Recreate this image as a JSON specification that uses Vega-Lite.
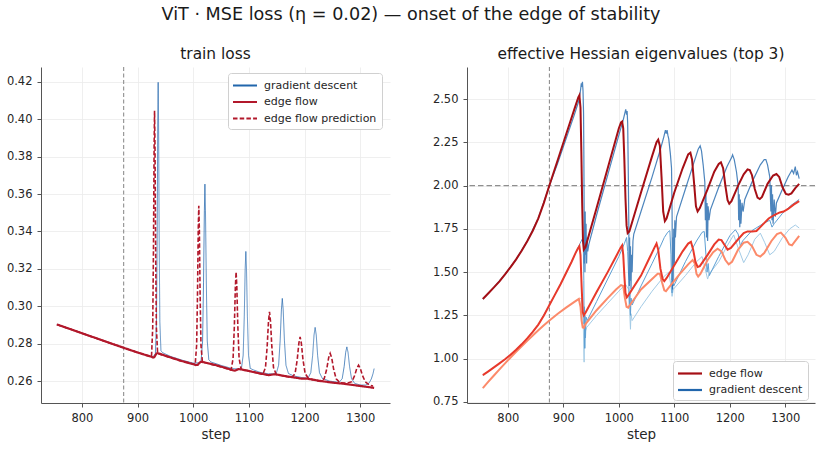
{
  "$schema": "https://vega.github.io/schema/vega-lite/v6.json",
  "padding": {"left": 6, "top": 6, "right": 5, "bottom": 5},
  "title": {"text": "ViT · MSE loss (η = 0.02) — onset of the edge of stability", "font": "DejaVu Sans", "fontSize": 17.6, "fontWeight": "normal", "color": "#1a1a1a", "anchor": "middle", "offset": 23},
  "config": {
    "view": {"stroke": null},
    "font": "DejaVu Sans",
    "title": {"font": "DejaVu Sans", "fontSize": 15.4, "fontWeight": "normal", "color": "#1a1a1a"},
    "axis": {"labelFont": "DejaVu Sans", "labelFontSize": 11.5, "labelColor": "#262626", "titleFont": "DejaVu Sans", "titleFontSize": 13.5, "titleFontWeight": "normal", "titleColor": "#262626", "domainColor": "#555555", "domainWidth": 1, "tickColor": "#555555", "tickSize": 4, "tickWidth": 1, "gridColor": "#ebebeb", "gridWidth": 0.8, "labelPadding": 5},
    "legend": {"labelFont": "DejaVu Sans", "labelFontSize": 11, "labelColor": "#262626", "symbolType": "M-2,0L2,0", "symbolSize": 144, "symbolStrokeWidth": 2.2, "symbolOffset": 4.5, "strokeColor": "#d0d0d0", "fillColor": "#ffffff", "padding": 5, "cornerRadius": 3, "rowPadding": 3.5, "labelOffset": 11.5, "symbolOpacity": 1}
  },
  "datasets": {
    "loss": [
      {"s": 755, "v": 0.2903, "c": "gradient descent"}, {"s": 780, "v": 0.2877, "c": "gradient descent"}, {"s": 800, "v": 0.2856, "c": "gradient descent"}, {"s": 825, "v": 0.2830, "c": "gradient descent"}, {"s": 850, "v": 0.2804, "c": "gradient descent"}, {"s": 875, "v": 0.2778, "c": "gradient descent"}, {"s": 900, "v": 0.2753, "c": "gradient descent"}, {"s": 920, "v": 0.2735, "c": "gradient descent"}, {"s": 928, "v": 0.2730, "c": "gradient descent"}, {"s": 932, "v": 0.2748, "c": "gradient descent"}, {"s": 934, "v": 0.2919, "c": "gradient descent"}, {"s": 935.25, "v": 0.3398, "c": "gradient descent"}, {"s": 936.25, "v": 0.3979, "c": "gradient descent"}, {"s": 937, "v": 0.4197, "c": "gradient descent"}, {"s": 937.75, "v": 0.3979, "c": "gradient descent"}, {"s": 938.75, "v": 0.3398, "c": "gradient descent"}, {"s": 940, "v": 0.2919, "c": "gradient descent"}, {"s": 942, "v": 0.2762, "c": "gradient descent"}, {"s": 945, "v": 0.2752, "c": "gradient descent"}, {"s": 960, "v": 0.2731, "c": "gradient descent"}, {"s": 980, "v": 0.2712, "c": "gradient descent"}, {"s": 1000, "v": 0.2696, "c": "gradient descent"}, {"s": 1010, "v": 0.2698, "c": "gradient descent"}, {"s": 1014, "v": 0.2704, "c": "gradient descent"}, {"s": 1016.8, "v": 0.2814, "c": "gradient descent"}, {"s": 1018.5, "v": 0.3129, "c": "gradient descent"}, {"s": 1020, "v": 0.3510, "c": "gradient descent"}, {"s": 1021, "v": 0.3653, "c": "gradient descent"}, {"s": 1022, "v": 0.3510, "c": "gradient descent"}, {"s": 1023.5, "v": 0.3129, "c": "gradient descent"}, {"s": 1025.2, "v": 0.2814, "c": "gradient descent"}, {"s": 1028, "v": 0.2714, "c": "gradient descent"}, {"s": 1032, "v": 0.2702, "c": "gradient descent"}, {"s": 1050, "v": 0.2684, "c": "gradient descent"}, {"s": 1070, "v": 0.2667, "c": "gradient descent"}, {"s": 1080, "v": 0.2665, "c": "gradient descent"}, {"s": 1086.5, "v": 0.2665, "c": "gradient descent"}, {"s": 1089.7, "v": 0.2738, "c": "gradient descent"}, {"s": 1091.7, "v": 0.2946, "c": "gradient descent"}, {"s": 1093.3, "v": 0.3198, "c": "gradient descent"}, {"s": 1094.5, "v": 0.3293, "c": "gradient descent"}, {"s": 1095.7, "v": 0.3198, "c": "gradient descent"}, {"s": 1097.3, "v": 0.2946, "c": "gradient descent"}, {"s": 1099.3, "v": 0.2738, "c": "gradient descent"}, {"s": 1102.5, "v": 0.2668, "c": "gradient descent"}, {"s": 1108, "v": 0.2660, "c": "gradient descent"}, {"s": 1120, "v": 0.2647, "c": "gradient descent"}, {"s": 1135, "v": 0.2639, "c": "gradient descent"}, {"s": 1149, "v": 0.2639, "c": "gradient descent"}, {"s": 1153.4, "v": 0.2685, "c": "gradient descent"}, {"s": 1156.2, "v": 0.2819, "c": "gradient descent"}, {"s": 1158.4, "v": 0.2981, "c": "gradient descent"}, {"s": 1160, "v": 0.3042, "c": "gradient descent"}, {"s": 1161.6, "v": 0.2981, "c": "gradient descent"}, {"s": 1163.8, "v": 0.2819, "c": "gradient descent"}, {"s": 1166.6, "v": 0.2685, "c": "gradient descent"}, {"s": 1171, "v": 0.2641, "c": "gradient descent"}, {"s": 1180, "v": 0.2628, "c": "gradient descent"}, {"s": 1195, "v": 0.2619, "c": "gradient descent"}, {"s": 1206, "v": 0.2615, "c": "gradient descent"}, {"s": 1211.2, "v": 0.2645, "c": "gradient descent"}, {"s": 1214.5, "v": 0.2736, "c": "gradient descent"}, {"s": 1217, "v": 0.2846, "c": "gradient descent"}, {"s": 1219, "v": 0.2887, "c": "gradient descent"}, {"s": 1221, "v": 0.2846, "c": "gradient descent"}, {"s": 1223.5, "v": 0.2736, "c": "gradient descent"}, {"s": 1226.8, "v": 0.2645, "c": "gradient descent"}, {"s": 1232, "v": 0.2614, "c": "gradient descent"}, {"s": 1245, "v": 0.2600, "c": "gradient descent"}, {"s": 1262, "v": 0.2593, "c": "gradient descent"}, {"s": 1267.6, "v": 0.2613, "c": "gradient descent"}, {"s": 1271.1, "v": 0.2677, "c": "gradient descent"}, {"s": 1273.9, "v": 0.2754, "c": "gradient descent"}, {"s": 1276, "v": 0.2783, "c": "gradient descent"}, {"s": 1278.1, "v": 0.2754, "c": "gradient descent"}, {"s": 1280.9, "v": 0.2677, "c": "gradient descent"}, {"s": 1284.4, "v": 0.2613, "c": "gradient descent"}, {"s": 1290, "v": 0.2588, "c": "gradient descent"}, {"s": 1300, "v": 0.2579, "c": "gradient descent"}, {"s": 1310, "v": 0.2579, "c": "gradient descent"}, {"s": 1316, "v": 0.2590, "c": "gradient descent"}, {"s": 1320, "v": 0.2612, "c": "gradient descent"}, {"s": 1323, "v": 0.2640, "c": "gradient descent"}, {"s": 1325, "v": 0.2667, "c": "gradient descent"},

      {"s": 755, "v": 0.2903, "c": "edge flow"}, {"s": 780, "v": 0.2877, "c": "edge flow"}, {"s": 800, "v": 0.2856, "c": "edge flow"}, {"s": 825, "v": 0.2830, "c": "edge flow"}, {"s": 850, "v": 0.2804, "c": "edge flow"}, {"s": 875, "v": 0.2778, "c": "edge flow"}, {"s": 900, "v": 0.2753, "c": "edge flow"}, {"s": 915, "v": 0.2739, "c": "edge flow"}, {"s": 925, "v": 0.2730, "c": "edge flow"}, {"s": 928, "v": 0.2726, "c": "edge flow"}, {"s": 930, "v": 0.2728, "c": "edge flow"}, {"s": 932, "v": 0.2738, "c": "edge flow"}, {"s": 934, "v": 0.2748, "c": "edge flow"}, {"s": 936, "v": 0.2750, "c": "edge flow"}, {"s": 940, "v": 0.2746, "c": "edge flow"}, {"s": 960, "v": 0.2726, "c": "edge flow"}, {"s": 980, "v": 0.2707, "c": "edge flow"}, {"s": 1000, "v": 0.2690, "c": "edge flow"}, {"s": 1005, "v": 0.2686, "c": "edge flow"}, {"s": 1008, "v": 0.2687, "c": "edge flow"}, {"s": 1010, "v": 0.2694, "c": "edge flow"}, {"s": 1013, "v": 0.2702, "c": "edge flow"}, {"s": 1016, "v": 0.2703, "c": "edge flow"}, {"s": 1020, "v": 0.2700, "c": "edge flow"}, {"s": 1040, "v": 0.2686, "c": "edge flow"}, {"s": 1060, "v": 0.2669, "c": "edge flow"}, {"s": 1072, "v": 0.2657, "c": "edge flow"}, {"s": 1075, "v": 0.2656, "c": "edge flow"}, {"s": 1078, "v": 0.2660, "c": "edge flow"}, {"s": 1081, "v": 0.2664, "c": "edge flow"}, {"s": 1085, "v": 0.2663, "c": "edge flow"}, {"s": 1100, "v": 0.2654, "c": "edge flow"}, {"s": 1120, "v": 0.2641, "c": "edge flow"}, {"s": 1135, "v": 0.2632, "c": "edge flow"}, {"s": 1140, "v": 0.2634, "c": "edge flow"}, {"s": 1145, "v": 0.2636, "c": "edge flow"}, {"s": 1150, "v": 0.2635, "c": "edge flow"}, {"s": 1165, "v": 0.2627, "c": "edge flow"}, {"s": 1180, "v": 0.2620, "c": "edge flow"}, {"s": 1195, "v": 0.2613, "c": "edge flow"}, {"s": 1200, "v": 0.2614, "c": "edge flow"}, {"s": 1205, "v": 0.2613, "c": "edge flow"}, {"s": 1220, "v": 0.2605, "c": "edge flow"}, {"s": 1235, "v": 0.2598, "c": "edge flow"}, {"s": 1250, "v": 0.2592, "c": "edge flow"}, {"s": 1270, "v": 0.2586, "c": "edge flow"}, {"s": 1290, "v": 0.2578, "c": "edge flow"}, {"s": 1310, "v": 0.2570, "c": "edge flow"}, {"s": 1325, "v": 0.2564, "c": "edge flow"},

      {"s": 755, "v": 0.2903, "c": "edge flow prediction"}, {"s": 800, "v": 0.2856, "c": "edge flow prediction"}, {"s": 850, "v": 0.2804, "c": "edge flow prediction"}, {"s": 875, "v": 0.2778, "c": "edge flow prediction"}, {"s": 900, "v": 0.2753, "c": "edge flow prediction"}, {"s": 925, "v": 0.2730, "c": "edge flow prediction"}, {"s": 927.2, "v": 0.2885, "c": "edge flow prediction"}, {"s": 928.6, "v": 0.3320, "c": "edge flow prediction"}, {"s": 929.7, "v": 0.3847, "c": "edge flow prediction"}, {"s": 930.5, "v": 0.4045, "c": "edge flow prediction"}, {"s": 931.3, "v": 0.3847, "c": "edge flow prediction"}, {"s": 932.4, "v": 0.3320, "c": "edge flow prediction"}, {"s": 933.8, "v": 0.2885, "c": "edge flow prediction"}, {"s": 936, "v": 0.2748, "c": "edge flow prediction"}, {"s": 940, "v": 0.2743, "c": "edge flow prediction"}, {"s": 960, "v": 0.2724, "c": "edge flow prediction"}, {"s": 980, "v": 0.2706, "c": "edge flow prediction"}, {"s": 1003.5, "v": 0.2689, "c": "edge flow prediction"}, {"s": 1006.1, "v": 0.2792, "c": "edge flow prediction"}, {"s": 1007.7, "v": 0.3071, "c": "edge flow prediction"}, {"s": 1009, "v": 0.3410, "c": "edge flow prediction"}, {"s": 1010, "v": 0.3537, "c": "edge flow prediction"}, {"s": 1011, "v": 0.3410, "c": "edge flow prediction"}, {"s": 1012.3, "v": 0.3071, "c": "edge flow prediction"}, {"s": 1013.9, "v": 0.2792, "c": "edge flow prediction"}, {"s": 1016.5, "v": 0.2702, "c": "edge flow prediction"}, {"s": 1022, "v": 0.2698, "c": "edge flow prediction"}, {"s": 1045, "v": 0.2680, "c": "edge flow prediction"}, {"s": 1068, "v": 0.2659, "c": "edge flow prediction"}, {"s": 1071.6, "v": 0.2721, "c": "edge flow prediction"}, {"s": 1073.9, "v": 0.2895, "c": "edge flow prediction"}, {"s": 1075.7, "v": 0.3105, "c": "edge flow prediction"}, {"s": 1077, "v": 0.3184, "c": "edge flow prediction"}, {"s": 1078.3, "v": 0.3105, "c": "edge flow prediction"}, {"s": 1080.1, "v": 0.2895, "c": "edge flow prediction"}, {"s": 1082.4, "v": 0.2721, "c": "edge flow prediction"}, {"s": 1086, "v": 0.2664, "c": "edge flow prediction"}, {"s": 1095, "v": 0.2658, "c": "edge flow prediction"}, {"s": 1110, "v": 0.2647, "c": "edge flow prediction"}, {"s": 1125, "v": 0.2636, "c": "edge flow prediction"}, {"s": 1129.8, "v": 0.2673, "c": "edge flow prediction"}, {"s": 1132.8, "v": 0.2784, "c": "edge flow prediction"}, {"s": 1135.2, "v": 0.2919, "c": "edge flow prediction"}, {"s": 1137, "v": 0.2970, "c": "edge flow prediction"}, {"s": 1138.8, "v": 0.2919, "c": "edge flow prediction"}, {"s": 1141.2, "v": 0.2784, "c": "edge flow prediction"}, {"s": 1144.2, "v": 0.2673, "c": "edge flow prediction"}, {"s": 1149, "v": 0.2636, "c": "edge flow prediction"}, {"s": 1160, "v": 0.2629, "c": "edge flow prediction"}, {"s": 1177, "v": 0.2618, "c": "edge flow prediction"}, {"s": 1183, "v": 0.2641, "c": "edge flow prediction"}, {"s": 1186.8, "v": 0.2714, "c": "edge flow prediction"}, {"s": 1189.8, "v": 0.2803, "c": "edge flow prediction"}, {"s": 1192, "v": 0.2836, "c": "edge flow prediction"}, {"s": 1194.2, "v": 0.2803, "c": "edge flow prediction"}, {"s": 1197.2, "v": 0.2714, "c": "edge flow prediction"}, {"s": 1201, "v": 0.2641, "c": "edge flow prediction"}, {"s": 1207, "v": 0.2614, "c": "edge flow prediction"}, {"s": 1215, "v": 0.2608, "c": "edge flow prediction"}, {"s": 1228, "v": 0.2598, "c": "edge flow prediction"}, {"s": 1235.2, "v": 0.2612, "c": "edge flow prediction"}, {"s": 1239.7, "v": 0.2663, "c": "edge flow prediction"}, {"s": 1243.3, "v": 0.2725, "c": "edge flow prediction"}, {"s": 1246, "v": 0.2748, "c": "edge flow prediction"}, {"s": 1248.7, "v": 0.2725, "c": "edge flow prediction"}, {"s": 1252.3, "v": 0.2663, "c": "edge flow prediction"}, {"s": 1256.8, "v": 0.2612, "c": "edge flow prediction"}, {"s": 1264, "v": 0.2591, "c": "edge flow prediction"}, {"s": 1272, "v": 0.2589, "c": "edge flow prediction"}, {"s": 1277, "v": 0.2590, "c": "edge flow prediction"}, {"s": 1285, "v": 0.2597, "c": "edge flow prediction"}, {"s": 1290, "v": 0.2630, "c": "edge flow prediction"}, {"s": 1294, "v": 0.2669, "c": "edge flow prediction"}, {"s": 1297, "v": 0.2685, "c": "edge flow prediction"}, {"s": 1300, "v": 0.2669, "c": "edge flow prediction"}, {"s": 1304, "v": 0.2630, "c": "edge flow prediction"}, {"s": 1309, "v": 0.2597, "c": "edge flow prediction"}, {"s": 1317, "v": 0.2578, "c": "edge flow prediction"}, {"s": 1323, "v": 0.2574, "c": "edge flow prediction"}
    ],
    "eig": [
      {"s": 755, "v": 0.83, "c": "gradient descent λ3"}, {"s": 775, "v": 0.903, "c": "gradient descent λ3"}, {"s": 795, "v": 0.973, "c": "gradient descent λ3"}, {"s": 815, "v": 1.04, "c": "gradient descent λ3"}, {"s": 835, "v": 1.103, "c": "gradient descent λ3"}, {"s": 855, "v": 1.164, "c": "gradient descent λ3"}, {"s": 875, "v": 1.221, "c": "gradient descent λ3"}, {"s": 900, "v": 1.285, "c": "gradient descent λ3"}, {"s": 925, "v": 1.338, "c": "gradient descent λ3"}, {"s": 933, "v": 1.35, "c": "gradient descent λ3"}, {"s": 936, "v": 1.20, "c": "gradient descent λ3"}, {"s": 937, "v": 1.05, "c": "gradient descent λ3"}, {"s": 937.5, "v": 0.98, "c": "gradient descent λ3"}, {"s": 938, "v": 1.12, "c": "gradient descent λ3"}, {"s": 939, "v": 1.06, "c": "gradient descent λ3"}, {"s": 940, "v": 1.16, "c": "gradient descent λ3"}, {"s": 942, "v": 1.18, "c": "gradient descent λ3"}, {"s": 960, "v": 1.25, "c": "gradient descent λ3"}, {"s": 980, "v": 1.32, "c": "gradient descent λ3"}, {"s": 1000, "v": 1.39, "c": "gradient descent λ3"}, {"s": 1012, "v": 1.43, "c": "gradient descent λ3"}, {"s": 1018, "v": 1.40, "c": "gradient descent λ3"}, {"s": 1020, "v": 1.25, "c": "gradient descent λ3"}, {"s": 1021, "v": 1.17, "c": "gradient descent λ3"}, {"s": 1022, "v": 1.26, "c": "gradient descent λ3"}, {"s": 1024, "v": 1.22, "c": "gradient descent λ3"}, {"s": 1040, "v": 1.30, "c": "gradient descent λ3"}, {"s": 1060, "v": 1.39, "c": "gradient descent λ3"}, {"s": 1080, "v": 1.47, "c": "gradient descent λ3"}, {"s": 1090, "v": 1.50, "c": "gradient descent λ3"}, {"s": 1094, "v": 1.42, "c": "gradient descent λ3"}, {"s": 1096, "v": 1.36, "c": "gradient descent λ3"}, {"s": 1098, "v": 1.40, "c": "gradient descent λ3"}, {"s": 1120, "v": 1.48, "c": "gradient descent λ3"}, {"s": 1140, "v": 1.56, "c": "gradient descent λ3"}, {"s": 1150, "v": 1.59, "c": "gradient descent λ3"}, {"s": 1157, "v": 1.50, "c": "gradient descent λ3"}, {"s": 1160, "v": 1.46, "c": "gradient descent λ3"}, {"s": 1163, "v": 1.49, "c": "gradient descent λ3"}, {"s": 1180, "v": 1.56, "c": "gradient descent λ3"}, {"s": 1195, "v": 1.65, "c": "gradient descent λ3"}, {"s": 1207, "v": 1.715, "c": "gradient descent λ3"}, {"s": 1215, "v": 1.64, "c": "gradient descent λ3"}, {"s": 1225, "v": 1.555, "c": "gradient descent λ3"}, {"s": 1233, "v": 1.60, "c": "gradient descent λ3"}, {"s": 1245, "v": 1.69, "c": "gradient descent λ3"}, {"s": 1255, "v": 1.725, "c": "gradient descent λ3"}, {"s": 1263, "v": 1.67, "c": "gradient descent λ3"}, {"s": 1272, "v": 1.60, "c": "gradient descent λ3"}, {"s": 1280, "v": 1.62, "c": "gradient descent λ3"}, {"s": 1295, "v": 1.70, "c": "gradient descent λ3"}, {"s": 1308, "v": 1.75, "c": "gradient descent λ3"}, {"s": 1318, "v": 1.772, "c": "gradient descent λ3"}, {"s": 1325, "v": 1.755, "c": "gradient descent λ3"},

      {"s": 755, "v": 0.905, "c": "gradient descent λ2"}, {"s": 775, "v": 0.950, "c": "gradient descent λ2"}, {"s": 795, "v": 0.997, "c": "gradient descent λ2"}, {"s": 815, "v": 1.052, "c": "gradient descent λ2"}, {"s": 835, "v": 1.117, "c": "gradient descent λ2"}, {"s": 855, "v": 1.197, "c": "gradient descent λ2"}, {"s": 875, "v": 1.31, "c": "gradient descent λ2"}, {"s": 895, "v": 1.43, "c": "gradient descent λ2"}, {"s": 915, "v": 1.56, "c": "gradient descent λ2"}, {"s": 930, "v": 1.665, "c": "gradient descent λ2"}, {"s": 934, "v": 1.69, "c": "gradient descent λ2"}, {"s": 936, "v": 1.66, "c": "gradient descent λ2"}, {"s": 937, "v": 1.45, "c": "gradient descent λ2"}, {"s": 937.5, "v": 1.20, "c": "gradient descent λ2"}, {"s": 938, "v": 1.30, "c": "gradient descent λ2"}, {"s": 938.5, "v": 1.06, "c": "gradient descent λ2"}, {"s": 939, "v": 1.25, "c": "gradient descent λ2"}, {"s": 940, "v": 1.12, "c": "gradient descent λ2"}, {"s": 941, "v": 1.24, "c": "gradient descent λ2"}, {"s": 943, "v": 1.22, "c": "gradient descent λ2"}, {"s": 960, "v": 1.33, "c": "gradient descent λ2"}, {"s": 980, "v": 1.46, "c": "gradient descent λ2"}, {"s": 1000, "v": 1.59, "c": "gradient descent λ2"}, {"s": 1010, "v": 1.665, "c": "gradient descent λ2"}, {"s": 1014, "v": 1.70, "c": "gradient descent λ2"}, {"s": 1016, "v": 1.62, "c": "gradient descent λ2"}, {"s": 1018, "v": 1.45, "c": "gradient descent λ2"}, {"s": 1019, "v": 1.30, "c": "gradient descent λ2"}, {"s": 1020, "v": 1.38, "c": "gradient descent λ2"}, {"s": 1021, "v": 1.25, "c": "gradient descent λ2"}, {"s": 1022, "v": 1.35, "c": "gradient descent λ2"}, {"s": 1024, "v": 1.31, "c": "gradient descent λ2"}, {"s": 1040, "v": 1.42, "c": "gradient descent λ2"}, {"s": 1060, "v": 1.55, "c": "gradient descent λ2"}, {"s": 1075, "v": 1.65, "c": "gradient descent λ2"}, {"s": 1082, "v": 1.70, "c": "gradient descent λ2"}, {"s": 1088, "v": 1.73, "c": "gradient descent λ2"}, {"s": 1092, "v": 1.74, "c": "gradient descent λ2"}, {"s": 1094, "v": 1.60, "c": "gradient descent λ2"}, {"s": 1095, "v": 1.45, "c": "gradient descent λ2"}, {"s": 1096, "v": 1.38, "c": "gradient descent λ2"}, {"s": 1097, "v": 1.45, "c": "gradient descent λ2"}, {"s": 1099, "v": 1.42, "c": "gradient descent λ2"}, {"s": 1120, "v": 1.56, "c": "gradient descent λ2"}, {"s": 1140, "v": 1.68, "c": "gradient descent λ2"}, {"s": 1150, "v": 1.73, "c": "gradient descent λ2"}, {"s": 1154, "v": 1.735, "c": "gradient descent λ2"}, {"s": 1157, "v": 1.60, "c": "gradient descent λ2"}, {"s": 1159, "v": 1.50, "c": "gradient descent λ2"}, {"s": 1161, "v": 1.55, "c": "gradient descent λ2"}, {"s": 1163, "v": 1.48, "c": "gradient descent λ2"}, {"s": 1180, "v": 1.59, "c": "gradient descent λ2"}, {"s": 1200, "v": 1.71, "c": "gradient descent λ2"}, {"s": 1210, "v": 1.745, "c": "gradient descent λ2"}, {"s": 1215, "v": 1.72, "c": "gradient descent λ2"}, {"s": 1219, "v": 1.65, "c": "gradient descent λ2"}, {"s": 1223, "v": 1.68, "c": "gradient descent λ2"}, {"s": 1240, "v": 1.74, "c": "gradient descent λ2"}, {"s": 1260, "v": 1.78, "c": "gradient descent λ2"}, {"s": 1272, "v": 1.80, "c": "gradient descent λ2"}, {"s": 1276, "v": 1.76, "c": "gradient descent λ2"}, {"s": 1280, "v": 1.78, "c": "gradient descent λ2"}, {"s": 1295, "v": 1.84, "c": "gradient descent λ2"}, {"s": 1310, "v": 1.885, "c": "gradient descent λ2"}, {"s": 1325, "v": 1.92, "c": "gradient descent λ2"},

      {"s": 755, "v": 1.345, "c": "gradient descent"}, {"s": 775, "v": 1.412, "c": "gradient descent"}, {"s": 795, "v": 1.487, "c": "gradient descent"}, {"s": 815, "v": 1.574, "c": "gradient descent"}, {"s": 835, "v": 1.679, "c": "gradient descent"}, {"s": 855, "v": 1.811, "c": "gradient descent"}, {"s": 875, "v": 2.00, "c": "gradient descent"}, {"s": 890, "v": 2.13, "c": "gradient descent"}, {"s": 905, "v": 2.27, "c": "gradient descent"}, {"s": 920, "v": 2.41, "c": "gradient descent"}, {"s": 928, "v": 2.49, "c": "gradient descent"}, {"s": 931, "v": 2.55, "c": "gradient descent"}, {"s": 932.5, "v": 2.59, "c": "gradient descent"}, {"s": 933.5, "v": 2.57, "c": "gradient descent"}, {"s": 934.5, "v": 2.60, "c": "gradient descent"}, {"s": 935.5, "v": 2.55, "c": "gradient descent"}, {"s": 936.5, "v": 2.42, "c": "gradient descent"}, {"s": 937, "v": 2.2, "c": "gradient descent"}, {"s": 937.5, "v": 1.9, "c": "gradient descent"}, {"s": 938, "v": 1.55, "c": "gradient descent"}, {"s": 938.5, "v": 1.75, "c": "gradient descent"}, {"s": 939, "v": 1.50, "c": "gradient descent"}, {"s": 939.5, "v": 1.85, "c": "gradient descent"}, {"s": 940, "v": 1.60, "c": "gradient descent"}, {"s": 941, "v": 1.78, "c": "gradient descent"}, {"s": 942, "v": 1.55, "c": "gradient descent"}, {"s": 943, "v": 1.70, "c": "gradient descent"}, {"s": 944, "v": 1.62, "c": "gradient descent"}, {"s": 946, "v": 1.66, "c": "gradient descent"}, {"s": 960, "v": 1.83, "c": "gradient descent"}, {"s": 980, "v": 2.06, "c": "gradient descent"}, {"s": 1000, "v": 2.29, "c": "gradient descent"}, {"s": 1008, "v": 2.38, "c": "gradient descent"}, {"s": 1011, "v": 2.42, "c": "gradient descent"}, {"s": 1012.5, "v": 2.44, "c": "gradient descent"}, {"s": 1014, "v": 2.41, "c": "gradient descent"}, {"s": 1015, "v": 2.43, "c": "gradient descent"}, {"s": 1016, "v": 2.36, "c": "gradient descent"}, {"s": 1017, "v": 2.1, "c": "gradient descent"}, {"s": 1018, "v": 1.8, "c": "gradient descent"}, {"s": 1018.5, "v": 1.5, "c": "gradient descent"}, {"s": 1019, "v": 1.42, "c": "gradient descent"}, {"s": 1019.5, "v": 1.70, "c": "gradient descent"}, {"s": 1020, "v": 1.45, "c": "gradient descent"}, {"s": 1021, "v": 1.65, "c": "gradient descent"}, {"s": 1022, "v": 1.40, "c": "gradient descent"}, {"s": 1023, "v": 1.60, "c": "gradient descent"}, {"s": 1024, "v": 1.50, "c": "gradient descent"}, {"s": 1025.5, "v": 1.68, "c": "gradient descent"}, {"s": 1027, "v": 1.72, "c": "gradient descent"}, {"s": 1040, "v": 1.85, "c": "gradient descent"}, {"s": 1060, "v": 2.05, "c": "gradient descent"}, {"s": 1075, "v": 2.21, "c": "gradient descent"}, {"s": 1081, "v": 2.28, "c": "gradient descent"}, {"s": 1084, "v": 2.32, "c": "gradient descent"}, {"s": 1085.5, "v": 2.30, "c": "gradient descent"}, {"s": 1087, "v": 2.32, "c": "gradient descent"}, {"s": 1088.5, "v": 2.29, "c": "gradient descent"}, {"s": 1090, "v": 2.27, "c": "gradient descent"}, {"s": 1093, "v": 2.18, "c": "gradient descent"}, {"s": 1095, "v": 2.10, "c": "gradient descent"}, {"s": 1096, "v": 1.85, "c": "gradient descent"}, {"s": 1096.5, "v": 1.55, "c": "gradient descent"}, {"s": 1097, "v": 1.40, "c": "gradient descent"}, {"s": 1097.5, "v": 1.70, "c": "gradient descent"}, {"s": 1098, "v": 1.45, "c": "gradient descent"}, {"s": 1099, "v": 1.75, "c": "gradient descent"}, {"s": 1100, "v": 1.55, "c": "gradient descent"}, {"s": 1101, "v": 1.80, "c": "gradient descent"}, {"s": 1102, "v": 1.70, "c": "gradient descent"}, {"s": 1104, "v": 1.82, "c": "gradient descent"}, {"s": 1120, "v": 1.98, "c": "gradient descent"}, {"s": 1135, "v": 2.13, "c": "gradient descent"}, {"s": 1143, "v": 2.21, "c": "gradient descent"}, {"s": 1146.6, "v": 2.23, "c": "gradient descent"}, {"s": 1149, "v": 2.20, "c": "gradient descent"}, {"s": 1152, "v": 2.12, "c": "gradient descent"}, {"s": 1155, "v": 2.02, "c": "gradient descent"}, {"s": 1156, "v": 1.80, "c": "gradient descent"}, {"s": 1157, "v": 1.95, "c": "gradient descent"}, {"s": 1158, "v": 1.70, "c": "gradient descent"}, {"s": 1159, "v": 1.90, "c": "gradient descent"}, {"s": 1160, "v": 1.68, "c": "gradient descent"}, {"s": 1161, "v": 1.88, "c": "gradient descent"}, {"s": 1162.5, "v": 1.80, "c": "gradient descent"}, {"s": 1165, "v": 1.86, "c": "gradient descent"}, {"s": 1180, "v": 1.99, "c": "gradient descent"}, {"s": 1195, "v": 2.11, "c": "gradient descent"}, {"s": 1203, "v": 2.16, "c": "gradient descent"}, {"s": 1205, "v": 2.178, "c": "gradient descent"}, {"s": 1208, "v": 2.15, "c": "gradient descent"}, {"s": 1212, "v": 2.08, "c": "gradient descent"}, {"s": 1215, "v": 2.00, "c": "gradient descent"}, {"s": 1216, "v": 1.80, "c": "gradient descent"}, {"s": 1217, "v": 1.95, "c": "gradient descent"}, {"s": 1218, "v": 1.76, "c": "gradient descent"}, {"s": 1219, "v": 1.92, "c": "gradient descent"}, {"s": 1220, "v": 1.78, "c": "gradient descent"}, {"s": 1222, "v": 1.90, "c": "gradient descent"}, {"s": 1224, "v": 1.85, "c": "gradient descent"}, {"s": 1227, "v": 1.92, "c": "gradient descent"}, {"s": 1240, "v": 2.02, "c": "gradient descent"}, {"s": 1255, "v": 2.12, "c": "gradient descent"}, {"s": 1262, "v": 2.15, "c": "gradient descent"}, {"s": 1265, "v": 2.15, "c": "gradient descent"}, {"s": 1268, "v": 2.12, "c": "gradient descent"}, {"s": 1272, "v": 2.05, "c": "gradient descent"}, {"s": 1274, "v": 1.85, "c": "gradient descent"}, {"s": 1275, "v": 2.00, "c": "gradient descent"}, {"s": 1276, "v": 1.80, "c": "gradient descent"}, {"s": 1277, "v": 1.95, "c": "gradient descent"}, {"s": 1278, "v": 1.78, "c": "gradient descent"}, {"s": 1280, "v": 1.92, "c": "gradient descent"}, {"s": 1282, "v": 1.82, "c": "gradient descent"}, {"s": 1284, "v": 1.90, "c": "gradient descent"}, {"s": 1295, "v": 1.98, "c": "gradient descent"}, {"s": 1305, "v": 2.05, "c": "gradient descent"}, {"s": 1312, "v": 2.09, "c": "gradient descent"}, {"s": 1315, "v": 2.07, "c": "gradient descent"}, {"s": 1318, "v": 2.11, "c": "gradient descent"}, {"s": 1320, "v": 2.06, "c": "gradient descent"}, {"s": 1322, "v": 2.08, "c": "gradient descent"}, {"s": 1325, "v": 2.04, "c": "gradient descent"},

      {"s": 755, "v": 0.83, "c": "edge flow λ3"}, {"s": 765, "v": 0.867, "c": "edge flow λ3"}, {"s": 775, "v": 0.903, "c": "edge flow λ3"}, {"s": 785, "v": 0.938, "c": "edge flow λ3"}, {"s": 795, "v": 0.973, "c": "edge flow λ3"}, {"s": 805, "v": 1.007, "c": "edge flow λ3"}, {"s": 815, "v": 1.04, "c": "edge flow λ3"}, {"s": 825, "v": 1.072, "c": "edge flow λ3"}, {"s": 835, "v": 1.103, "c": "edge flow λ3"}, {"s": 845, "v": 1.134, "c": "edge flow λ3"}, {"s": 855, "v": 1.164, "c": "edge flow λ3"}, {"s": 865, "v": 1.193, "c": "edge flow λ3"}, {"s": 875, "v": 1.221, "c": "edge flow λ3"}, {"s": 890, "v": 1.26, "c": "edge flow λ3"}, {"s": 905, "v": 1.295, "c": "edge flow λ3"}, {"s": 920, "v": 1.328, "c": "edge flow λ3"}, {"s": 928, "v": 1.345, "c": "edge flow λ3"}, {"s": 931, "v": 1.30, "c": "edge flow λ3"}, {"s": 933, "v": 1.22, "c": "edge flow λ3"}, {"s": 935, "v": 1.18, "c": "edge flow λ3"}, {"s": 937, "v": 1.178, "c": "edge flow λ3"}, {"s": 940, "v": 1.20, "c": "edge flow λ3"}, {"s": 960, "v": 1.28, "c": "edge flow λ3"}, {"s": 980, "v": 1.35, "c": "edge flow λ3"}, {"s": 995, "v": 1.40, "c": "edge flow λ3"}, {"s": 1004, "v": 1.425, "c": "edge flow λ3"}, {"s": 1008, "v": 1.42, "c": "edge flow λ3"}, {"s": 1011, "v": 1.35, "c": "edge flow λ3"}, {"s": 1014, "v": 1.30, "c": "edge flow λ3"}, {"s": 1017, "v": 1.295, "c": "edge flow λ3"}, {"s": 1020, "v": 1.31, "c": "edge flow λ3"}, {"s": 1040, "v": 1.40, "c": "edge flow λ3"}, {"s": 1060, "v": 1.46, "c": "edge flow λ3"}, {"s": 1070, "v": 1.49, "c": "edge flow λ3"}, {"s": 1074, "v": 1.49, "c": "edge flow λ3"}, {"s": 1078, "v": 1.44, "c": "edge flow λ3"}, {"s": 1082, "v": 1.395, "c": "edge flow λ3"}, {"s": 1085, "v": 1.39, "c": "edge flow λ3"}, {"s": 1090, "v": 1.41, "c": "edge flow λ3"}, {"s": 1110, "v": 1.49, "c": "edge flow λ3"}, {"s": 1125, "v": 1.545, "c": "edge flow λ3"}, {"s": 1133, "v": 1.57, "c": "edge flow λ3"}, {"s": 1137, "v": 1.55, "c": "edge flow λ3"}, {"s": 1140, "v": 1.49, "c": "edge flow λ3"}, {"s": 1143, "v": 1.475, "c": "edge flow λ3"}, {"s": 1147, "v": 1.49, "c": "edge flow λ3"}, {"s": 1160, "v": 1.57, "c": "edge flow λ3"}, {"s": 1170, "v": 1.615, "c": "edge flow λ3"}, {"s": 1178, "v": 1.635, "c": "edge flow λ3"}, {"s": 1185, "v": 1.62, "c": "edge flow λ3"}, {"s": 1192, "v": 1.57, "c": "edge flow λ3"}, {"s": 1198, "v": 1.545, "c": "edge flow λ3"}, {"s": 1204, "v": 1.56, "c": "edge flow λ3"}, {"s": 1215, "v": 1.63, "c": "edge flow λ3"}, {"s": 1225, "v": 1.67, "c": "edge flow λ3"}, {"s": 1232, "v": 1.675, "c": "edge flow λ3"}, {"s": 1240, "v": 1.65, "c": "edge flow λ3"}, {"s": 1248, "v": 1.60, "c": "edge flow λ3"}, {"s": 1255, "v": 1.59, "c": "edge flow λ3"}, {"s": 1262, "v": 1.61, "c": "edge flow λ3"}, {"s": 1275, "v": 1.68, "c": "edge flow λ3"}, {"s": 1285, "v": 1.72, "c": "edge flow λ3"}, {"s": 1292, "v": 1.728, "c": "edge flow λ3"}, {"s": 1300, "v": 1.70, "c": "edge flow λ3"}, {"s": 1307, "v": 1.66, "c": "edge flow λ3"}, {"s": 1312, "v": 1.655, "c": "edge flow λ3"}, {"s": 1318, "v": 1.68, "c": "edge flow λ3"}, {"s": 1325, "v": 1.71, "c": "edge flow λ3"},

      {"s": 755, "v": 0.905, "c": "edge flow λ2"}, {"s": 765, "v": 0.927, "c": "edge flow λ2"}, {"s": 775, "v": 0.950, "c": "edge flow λ2"}, {"s": 785, "v": 0.973, "c": "edge flow λ2"}, {"s": 795, "v": 0.997, "c": "edge flow λ2"}, {"s": 805, "v": 1.023, "c": "edge flow λ2"}, {"s": 815, "v": 1.052, "c": "edge flow λ2"}, {"s": 825, "v": 1.083, "c": "edge flow λ2"}, {"s": 835, "v": 1.117, "c": "edge flow λ2"}, {"s": 845, "v": 1.155, "c": "edge flow λ2"}, {"s": 855, "v": 1.197, "c": "edge flow λ2"}, {"s": 865, "v": 1.25, "c": "edge flow λ2"}, {"s": 875, "v": 1.31, "c": "edge flow λ2"}, {"s": 885, "v": 1.37, "c": "edge flow λ2"}, {"s": 895, "v": 1.43, "c": "edge flow λ2"}, {"s": 905, "v": 1.495, "c": "edge flow λ2"}, {"s": 915, "v": 1.56, "c": "edge flow λ2"}, {"s": 922, "v": 1.61, "c": "edge flow λ2"}, {"s": 926, "v": 1.635, "c": "edge flow λ2"}, {"s": 929, "v": 1.65, "c": "edge flow λ2"}, {"s": 931, "v": 1.60, "c": "edge flow λ2"}, {"s": 933, "v": 1.42, "c": "edge flow λ2"}, {"s": 935, "v": 1.27, "c": "edge flow λ2"}, {"s": 937, "v": 1.25, "c": "edge flow λ2"}, {"s": 940, "v": 1.265, "c": "edge flow λ2"}, {"s": 960, "v": 1.385, "c": "edge flow λ2"}, {"s": 980, "v": 1.50, "c": "edge flow λ2"}, {"s": 995, "v": 1.59, "c": "edge flow λ2"}, {"s": 1003, "v": 1.64, "c": "edge flow λ2"}, {"s": 1006, "v": 1.655, "c": "edge flow λ2"}, {"s": 1008, "v": 1.60, "c": "edge flow λ2"}, {"s": 1010, "v": 1.48, "c": "edge flow λ2"}, {"s": 1012, "v": 1.38, "c": "edge flow λ2"}, {"s": 1014.5, "v": 1.355, "c": "edge flow λ2"}, {"s": 1018, "v": 1.37, "c": "edge flow λ2"}, {"s": 1040, "v": 1.48, "c": "edge flow λ2"}, {"s": 1055, "v": 1.58, "c": "edge flow λ2"}, {"s": 1064, "v": 1.64, "c": "edge flow λ2"}, {"s": 1068, "v": 1.665, "c": "edge flow λ2"}, {"s": 1071, "v": 1.63, "c": "edge flow λ2"}, {"s": 1075, "v": 1.52, "c": "edge flow λ2"}, {"s": 1079, "v": 1.46, "c": "edge flow λ2"}, {"s": 1082, "v": 1.448, "c": "edge flow λ2"}, {"s": 1086, "v": 1.465, "c": "edge flow λ2"}, {"s": 1100, "v": 1.54, "c": "edge flow λ2"}, {"s": 1115, "v": 1.62, "c": "edge flow λ2"}, {"s": 1125, "v": 1.665, "c": "edge flow λ2"}, {"s": 1130, "v": 1.675, "c": "edge flow λ2"}, {"s": 1134, "v": 1.63, "c": "edge flow λ2"}, {"s": 1138, "v": 1.56, "c": "edge flow λ2"}, {"s": 1142, "v": 1.53, "c": "edge flow λ2"}, {"s": 1146, "v": 1.535, "c": "edge flow λ2"}, {"s": 1160, "v": 1.60, "c": "edge flow λ2"}, {"s": 1172, "v": 1.66, "c": "edge flow λ2"}, {"s": 1180, "v": 1.688, "c": "edge flow λ2"}, {"s": 1185, "v": 1.685, "c": "edge flow λ2"}, {"s": 1190, "v": 1.66, "c": "edge flow λ2"}, {"s": 1196, "v": 1.63, "c": "edge flow λ2"}, {"s": 1202, "v": 1.64, "c": "edge flow λ2"}, {"s": 1215, "v": 1.69, "c": "edge flow λ2"}, {"s": 1225, "v": 1.725, "c": "edge flow λ2"}, {"s": 1232, "v": 1.735, "c": "edge flow λ2"}, {"s": 1240, "v": 1.735, "c": "edge flow λ2"}, {"s": 1248, "v": 1.738, "c": "edge flow λ2"}, {"s": 1258, "v": 1.77, "c": "edge flow λ2"}, {"s": 1270, "v": 1.81, "c": "edge flow λ2"}, {"s": 1280, "v": 1.83, "c": "edge flow λ2"}, {"s": 1290, "v": 1.845, "c": "edge flow λ2"}, {"s": 1297, "v": 1.85, "c": "edge flow λ2"}, {"s": 1305, "v": 1.865, "c": "edge flow λ2"}, {"s": 1315, "v": 1.89, "c": "edge flow λ2"}, {"s": 1325, "v": 1.91, "c": "edge flow λ2"},

      {"s": 755, "v": 1.345, "c": "edge flow"}, {"s": 765, "v": 1.378, "c": "edge flow"}, {"s": 775, "v": 1.412, "c": "edge flow"}, {"s": 785, "v": 1.447, "c": "edge flow"}, {"s": 795, "v": 1.487, "c": "edge flow"}, {"s": 805, "v": 1.529, "c": "edge flow"}, {"s": 815, "v": 1.574, "c": "edge flow"}, {"s": 825, "v": 1.624, "c": "edge flow"}, {"s": 835, "v": 1.679, "c": "edge flow"}, {"s": 845, "v": 1.739, "c": "edge flow"}, {"s": 855, "v": 1.811, "c": "edge flow"}, {"s": 865, "v": 1.900, "c": "edge flow"}, {"s": 875, "v": 2.002, "c": "edge flow"}, {"s": 890, "v": 2.148, "c": "edge flow"}, {"s": 905, "v": 2.295, "c": "edge flow"}, {"s": 920, "v": 2.442, "c": "edge flow"}, {"s": 927, "v": 2.51, "c": "edge flow"}, {"s": 929, "v": 2.522, "c": "edge flow"}, {"s": 931, "v": 2.45, "c": "edge flow"}, {"s": 932.5, "v": 2.20, "c": "edge flow"}, {"s": 934, "v": 1.90, "c": "edge flow"}, {"s": 935.5, "v": 1.68, "c": "edge flow"}, {"s": 937, "v": 1.630, "c": "edge flow"}, {"s": 940, "v": 1.645, "c": "edge flow"}, {"s": 960, "v": 1.870, "c": "edge flow"}, {"s": 980, "v": 2.100, "c": "edge flow"}, {"s": 1000, "v": 2.330, "c": "edge flow"}, {"s": 1004, "v": 2.365, "c": "edge flow"}, {"s": 1006, "v": 2.370, "c": "edge flow"}, {"s": 1008, "v": 2.33, "c": "edge flow"}, {"s": 1010, "v": 2.15, "c": "edge flow"}, {"s": 1012, "v": 1.93, "c": "edge flow"}, {"s": 1014, "v": 1.77, "c": "edge flow"}, {"s": 1016, "v": 1.725, "c": "edge flow"}, {"s": 1019, "v": 1.735, "c": "edge flow"}, {"s": 1040, "v": 1.960, "c": "edge flow"}, {"s": 1060, "v": 2.170, "c": "edge flow"}, {"s": 1068, "v": 2.250, "c": "edge flow"}, {"s": 1071, "v": 2.265, "c": "edge flow"}, {"s": 1074, "v": 2.23, "c": "edge flow"}, {"s": 1077, "v": 2.05, "c": "edge flow"}, {"s": 1080, "v": 1.85, "c": "edge flow"}, {"s": 1083, "v": 1.795, "c": "edge flow"}, {"s": 1086, "v": 1.81, "c": "edge flow"}, {"s": 1100, "v": 1.960, "c": "edge flow"}, {"s": 1115, "v": 2.100, "c": "edge flow"}, {"s": 1125, "v": 2.180, "c": "edge flow"}, {"s": 1129, "v": 2.190, "c": "edge flow"}, {"s": 1132, "v": 2.15, "c": "edge flow"}, {"s": 1136, "v": 2.00, "c": "edge flow"}, {"s": 1139, "v": 1.88, "c": "edge flow"}, {"s": 1142, "v": 1.850, "c": "edge flow"}, {"s": 1146, "v": 1.870, "c": "edge flow"}, {"s": 1160, "v": 1.980, "c": "edge flow"}, {"s": 1172, "v": 2.080, "c": "edge flow"}, {"s": 1180, "v": 2.125, "c": "edge flow"}, {"s": 1184, "v": 2.134, "c": "edge flow"}, {"s": 1188, "v": 2.10, "c": "edge flow"}, {"s": 1192, "v": 2.00, "c": "edge flow"}, {"s": 1196, "v": 1.915, "c": "edge flow"}, {"s": 1199, "v": 1.895, "c": "edge flow"}, {"s": 1203, "v": 1.91, "c": "edge flow"}, {"s": 1215, "v": 2.00, "c": "edge flow"}, {"s": 1225, "v": 2.065, "c": "edge flow"}, {"s": 1232, "v": 2.093, "c": "edge flow"}, {"s": 1236, "v": 2.090, "c": "edge flow"}, {"s": 1240, "v": 2.06, "c": "edge flow"}, {"s": 1245, "v": 1.98, "c": "edge flow"}, {"s": 1250, "v": 1.93, "c": "edge flow"}, {"s": 1254, "v": 1.922, "c": "edge flow"}, {"s": 1258, "v": 1.935, "c": "edge flow"}, {"s": 1268, "v": 2.01, "c": "edge flow"}, {"s": 1278, "v": 2.058, "c": "edge flow"}, {"s": 1284, "v": 2.067, "c": "edge flow"}, {"s": 1289, "v": 2.05, "c": "edge flow"}, {"s": 1295, "v": 1.99, "c": "edge flow"}, {"s": 1301, "v": 1.952, "c": "edge flow"}, {"s": 1306, "v": 1.947, "c": "edge flow"}, {"s": 1311, "v": 1.955, "c": "edge flow"}, {"s": 1318, "v": 1.985, "c": "edge flow"}, {"s": 1325, "v": 2.010, "c": "edge flow"}
    ]
  },
  "spacing": 42,
  "resolve": {"scale": {"x": "independent", "y": "independent", "color": "independent", "strokeDash": "independent"}, "legend": {"color": "independent", "strokeDash": "independent"}},
  "hconcat": [
    {
      "width": 349,
      "height": 336,
      "title": {"text": "train loss", "offset": 4, "frame": "group"},
      "encoding": {
        "x": {"field": "s", "type": "quantitative", "title": "step", "scale": {"domain": [726.5, 1353.5], "nice": false, "zero": false}, "axis": {"values": [800, 900, 1000, 1100, 1200, 1300], "format": "d"}}
      },
      "layer": [
        {"data": {"values": [{"s": 875}]}, "mark": {"type": "rule", "color": "#8f8f8f", "strokeWidth": 1.1, "strokeDash": [4, 2.5]}},
        {
          "data": {"name": "loss"},
          "transform": [{"filter": "datum.c === 'gradient descent'"}],
          "mark": {"type": "line", "strokeWidth": 1, "opacity": 0.75},
          "encoding": {
            "y": {"field": "v", "type": "quantitative", "title": null, "scale": {"domain": [0.2483, 0.4279], "nice": false, "zero": false}, "axis": {"values": [0.26, 0.28, 0.30, 0.32, 0.34, 0.36, 0.38, 0.40, 0.42], "format": ".2f"}},
            "color": {"field": "c", "type": "nominal", "scale": {"domain": ["gradient descent", "edge flow", "edge flow prediction"], "range": ["#2166ac", "#b2182b", "#b2182b"]}, "legend": {"title": null, "orient": "none", "legendX": 187, "legendY": 6, "encode": {"symbols": {"update": {"opacity": {"value": 1}}}}}},
            "strokeDash": {"field": "c", "type": "nominal", "scale": {"domain": ["gradient descent", "edge flow", "edge flow prediction"], "range": [[1, 0], [1, 0], [4.5, 2.2]]}, "legend": {"title": null, "orient": "none", "legendX": 187, "legendY": 6, "encode": {"symbols": {"update": {"opacity": {"value": 1}}}}}}
          }
        },
        {
          "data": {"name": "loss"},
          "transform": [{"filter": "datum.c === 'edge flow'"}],
          "mark": {"type": "line", "strokeWidth": 2.2},
          "encoding": {
            "y": {"field": "v", "type": "quantitative"},
            "color": {"field": "c", "type": "nominal"},
            "strokeDash": {"field": "c", "type": "nominal"}
          }
        },
        {
          "data": {"name": "loss"},
          "transform": [{"filter": "datum.c === 'edge flow prediction'"}],
          "mark": {"type": "line", "strokeWidth": 1.6},
          "encoding": {
            "y": {"field": "v", "type": "quantitative"},
            "color": {"field": "c", "type": "nominal"},
            "strokeDash": {"field": "c", "type": "nominal"}
          }
        }
      ]
    },
    {
      "width": 348,
      "height": 336,
      "title": {"text": "effective Hessian eigenvalues (top 3)", "offset": 4, "frame": "group"},
      "encoding": {
        "x": {"field": "s", "type": "quantitative", "title": "step", "scale": {"domain": [726.5, 1353.5], "nice": false, "zero": false}, "axis": {"values": [800, 900, 1000, 1100, 1200, 1300], "format": "d"}}
      },
      "layer": [
        {"data": {"values": [{"s": 875}]}, "mark": {"type": "rule", "color": "#8f8f8f", "strokeWidth": 1.1, "strokeDash": [4, 2.5]}},
        {"data": {"values": [{"v": 2.0}]}, "mark": {"type": "rule", "color": "#8f8f8f", "strokeWidth": 1.3, "strokeDash": [5.5, 3]}, "encoding": {"x": null, "y": {"field": "v", "type": "quantitative"}}},
        {
          "data": {"name": "eig"},
          "transform": [{"filter": "datum.c === 'gradient descent λ3' || datum.c === 'gradient descent λ2'"}],
          "mark": {"type": "line", "strokeWidth": 1},
          "encoding": {
            "y": {"field": "v", "type": "quantitative", "title": null, "scale": {"domain": [0.744, 2.685], "nice": false, "zero": false}, "axis": {"values": [0.75, 1.0, 1.25, 1.5, 1.75, 2.0, 2.25, 2.5], "format": ".2f"}},
            "color": {"field": "c", "type": "nominal", "scale": {"domain": ["edge flow", "gradient descent", "edge flow λ2", "edge flow λ3", "gradient descent λ2", "gradient descent λ3"], "range": ["#a50f15", "#2166ac", "#e8392b", "#fc8a6a", "#5e9fd3", "#a3cbe6"]}, "legend": {"title": null, "values": ["edge flow", "gradient descent"], "orient": "none", "legendX": 206, "legendY": 294, "encode": {"symbols": {"update": {"opacity": {"value": 1}}}}}}
          }
        },
        {
          "data": {"name": "eig"},
          "transform": [{"filter": "datum.c === 'gradient descent'"}],
          "mark": {"type": "line", "strokeWidth": 1.2, "opacity": 0.8},
          "encoding": {
            "y": {"field": "v", "type": "quantitative"},
            "color": {"field": "c", "type": "nominal"}
          }
        },
        {
          "data": {"name": "eig"},
          "transform": [{"filter": "datum.c === 'edge flow λ3' || datum.c === 'edge flow λ2' || datum.c === 'edge flow'"}],
          "mark": {"type": "line", "strokeWidth": 2},
          "encoding": {
            "y": {"field": "v", "type": "quantitative"},
            "color": {"field": "c", "type": "nominal"}
          }
        }
      ]
    }
  ]
}
